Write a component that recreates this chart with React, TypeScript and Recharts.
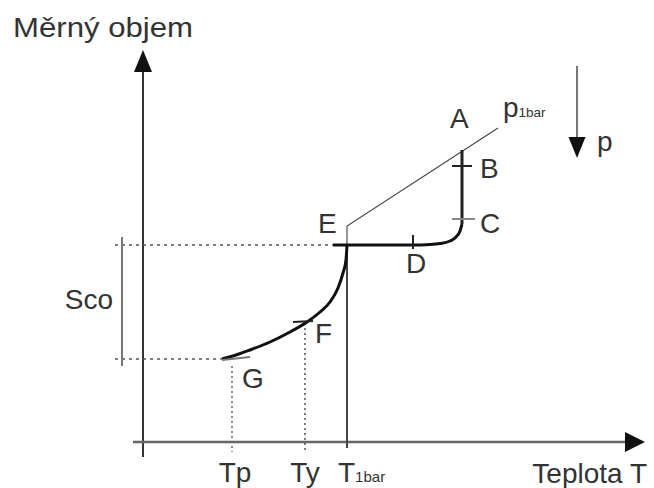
import React from 'react';
import { ComposedChart, Line, XAxis, YAxis, ReferenceLine, ReferenceDot } from 'recharts';

// Characteristic temperatures (schematic units along the T axis)
const T_P = 8.9;
const T_Y = 16.2;
const T_1BAR = 20.4;

// Specific volumes bounding the Sco interval
const V_E = 19.7;
const V_G = 8.3;

// Named states on the cooling path
const pointA = { t: 31.9, v: 29.2 };
const pointB = { t: 31.9, v: 27.6 };
const pointC = { t: 31.9, v: 22.3 };
const pointD = { t: 27.0, v: V_E };
const pointE = { t: T_1BAR, v: V_E };
const pointF = { t: 16.4, v: 12.0 };
const pointG = { t: 7.9, v: V_G };

// G -> F -> E branch
const lowerBranch = [
  { t: 7.9, v: 8.3 },
  { t: 9.0, v: 8.6 },
  { t: 10.7, v: 9.2 },
  { t: 12.7, v: 10.0 },
  { t: 14.7, v: 11.0 },
  { t: 16.4, v: 12.0 },
  { t: 17.7, v: 13.0 },
  { t: 18.7, v: 14.0 },
  { t: 19.5, v: 15.4 },
  { t: 20.0, v: 16.9 },
  { t: 20.3, v: 18.2 },
  { t: 20.4, v: 19.7 },
];

// E -> D plateau bending up towards C
const plateauBranch = [
  { t: 19.0, v: 19.7 },
  { t: 27.0, v: 19.7 },
  { t: 28.7, v: 19.75 },
  { t: 29.7, v: 19.85 },
  { t: 30.7, v: 20.1 },
  { t: 31.3, v: 20.5 },
  { t: 31.7, v: 21.1 },
  { t: 31.9, v: 21.8 },
];

// C -> B -> A rise
const upperBranch = [
  { t: 31.9, v: 21.8 },
  { t: 31.9, v: 29.2 },
];

// p = 1 bar isobar starting above E
const isobar = [
  { t: 20.4, v: 19.7 },
  { t: 20.4, v: 21.6 },
  { t: 35.5, v: 31.4 },
];

// Axis extents and arrow geometry in chart units
const X_MAX = 50.2;
const Y_MAX = 39.2;
const X_AXIS_FROM = -1;
const X_ARROW_BASE = 48.2;
const Y_AXIS_FROM = -1.5;
const Y_ARROW_BASE = 37.0;
const BELOW_AXIS = -1;
const SCO_X = -2.1;
const GUIDE_FROM = -2.8;
const P_ARROW_T = 43.4;
const P_ARROW_TOP = 37.6;
const P_ARROW_BASE = 30.5;
const P_ARROW_TIP = 28.4;

const FONT = '"Liberation Sans", Arial, Helvetica, sans-serif';
const INK = '#333';

type Pt = { t: number; v: number };

const seg = (key: string, a: Pt, b: Pt, stroke: string, width: number, dash?: string) => (
  <ReferenceLine
    key={key}
    segment={[{ x: a.t, y: a.v }, { x: b.t, y: b.v }]}
    stroke={stroke}
    strokeWidth={width}
    strokeDasharray={dash}
    ifOverflow="visible"
  />
);

const label = (
  key: string,
  at: Pt,
  content: React.ReactNode,
  dx: number,
  dy: number,
  anchor: 'start' | 'middle' | 'end' = 'start',
  extra: Record<string, unknown> = {}
) => (
  <ReferenceDot
    key={key}
    x={at.t}
    y={at.v}
    r={0}
    ifOverflow="visible"
    shape={(p: any) => (
      <text
        x={p.cx + dx}
        y={p.cy + dy}
        textAnchor={anchor}
        fontFamily={FONT}
        fontSize={28}
        fill={INK}
        {...extra}
      >
        {content}
      </text>
    )}
  />
);

// Filled triangular arrowhead; dir = direction the tip points
const arrow = (key: string, tip: Pt, dir: 'up' | 'right' | 'down', len: number, half: number) => (
  <ReferenceDot
    key={key}
    x={tip.t}
    y={tip.v}
    r={0}
    ifOverflow="visible"
    shape={(p: any) => {
      const { cx, cy } = p;
      let pts = '';
      if (dir === 'up') pts = `${cx},${cy} ${cx - half},${cy + len} ${cx + half},${cy + len}`;
      if (dir === 'down') pts = `${cx},${cy} ${cx - half},${cy - len} ${cx + half},${cy - len}`;
      if (dir === 'right') pts = `${cx},${cy} ${cx - len},${cy - half} ${cx - len},${cy + half}`;
      return <polygon points={pts} fill="#111" />;
    }}
  />
);

export default function App() {
  return (
    <div style={{ position: 'absolute', left: 0, top: 0, background: '#fff' }}>
      <ComposedChart
        width={654}
        height={488}
        margin={{ top: 50, right: 9, bottom: 46, left: 143 }}
      >
        <XAxis type="number" dataKey="t" domain={[0, X_MAX]} hide allowDataOverflow />
        <YAxis type="number" dataKey="v" domain={[0, Y_MAX]} hide allowDataOverflow />

        {/* coordinate axes */}
        {seg('yaxis', { t: 0, v: Y_AXIS_FROM }, { t: 0, v: Y_ARROW_BASE }, '#333', 2)}
        {seg('xaxis', { t: X_AXIS_FROM, v: 0 }, { t: X_ARROW_BASE, v: 0 }, '#666', 2.5)}
        {arrow('yarrow', { t: 0, v: Y_MAX }, 'up', 22, 9)}
        {arrow('xarrow', { t: X_MAX, v: 0 }, 'right', 20, 10)}

        {/* guide lines */}
        {seg('guideE', { t: GUIDE_FROM, v: V_E }, { t: 19.0, v: V_E }, '#555', 1.5, '3 4')}
        {seg('guideG', { t: GUIDE_FROM, v: V_G }, { t: pointG.t, v: V_G }, '#555', 1.5, '3 4')}
        {seg('guideTp', { t: T_P, v: 7.6 }, { t: T_P, v: BELOW_AXIS }, '#666', 1.5, '2 3')}
        {seg('guideTy', { t: T_Y, v: 11.9 }, { t: T_Y, v: BELOW_AXIS }, '#555', 1.5, '2 3')}
        {seg('t1bar', { t: T_1BAR, v: V_E }, { t: T_1BAR, v: -0.6 }, '#444', 2)}
        {seg('sco', { t: SCO_X, v: 20.5 }, { t: SCO_X, v: 7.6 }, '#777', 2)}

        {/* pressure direction arrow */}
        {seg('parrow', { t: P_ARROW_T, v: P_ARROW_TOP }, { t: P_ARROW_T, v: P_ARROW_BASE }, '#777', 2)}
        {arrow('parrowhead', { t: P_ARROW_T, v: P_ARROW_TIP }, 'down', 21, 8.5)}

        {/* isobar and cooling path */}
        <Line data={isobar} dataKey="v" type="linear" stroke="#444" strokeWidth={1.1} dot={false} isAnimationActive={false} />
        <Line data={lowerBranch} dataKey="v" type="monotone" stroke="#111" strokeWidth={3} dot={false} isAnimationActive={false} />
        <Line data={plateauBranch} dataKey="v" type="monotone" stroke="#111" strokeWidth={3} dot={false} isAnimationActive={false} />
        <Line data={upperBranch} dataKey="v" type="linear" stroke="#222" strokeWidth={3} dot={false} isAnimationActive={false} />

        {/* state tick marks */}
        {seg('tickB', { t: 30.9, v: pointB.v }, { t: 32.9, v: pointB.v }, '#222', 2)}
        {seg('tickC', { t: 30.9, v: pointC.v }, { t: 33.2, v: pointC.v }, '#888', 2)}
        {seg('tickD', { t: pointD.t, v: 20.7 }, { t: pointD.t, v: 19.3 }, '#222', 2)}
        {seg('tickF', { t: 15.0, v: 12.0 }, { t: 17.0, v: 12.1 }, '#222', 2)}
        {seg('tickG', { t: 7.9, v: 8.2 }, { t: 10.7, v: 8.5 }, '#777', 2)}

        {/* state labels */}
        {label('lA', pointA, 'A', -12, -22)}
        {label('lB', pointB, 'B', 18, 12)}
        {label('lC', pointC, 'C', 18, 14)}
        {label('lD', pointD, 'D', -7, 28)}
        {label('lE', pointE, 'E', -29, -12)}
        {label('lF', pointF, 'F', 8, 21)}
        {label('lG', pointG, 'G', 20, 29)}
        {label('lp1', isobar[2], <>p<tspan fontSize={13.5}>1bar</tspan></>, 5, -11)}
        {label('lp', { t: P_ARROW_T, v: P_ARROW_TIP }, 'p', 20, -7)}
        {label('lsco', { t: SCO_X, v: (V_E + V_G) / 2 }, 'Sco', -9, 7, 'end')}

        {/* axis labels */}
        {label('lTp', { t: T_P, v: 0 }, 'Tp', 3, 40, 'middle')}
        {label('lTy', { t: T_Y, v: 0 }, 'Ty', 0, 40, 'middle')}
        {label('lT1', { t: T_1BAR, v: 0 }, <>T<tspan fontSize={15}>1bar</tspan></>, -9, 40)}
        {label('lx', { t: X_MAX, v: 0 }, 'Teplota T', 2, 41, 'end')}
        {label('ly', { t: 0, v: Y_MAX }, 'Měrný objem', -130, -13, 'start', { textLength: 180, lengthAdjust: 'spacingAndGlyphs' })}
      </ComposedChart>
    </div>
  );
}
